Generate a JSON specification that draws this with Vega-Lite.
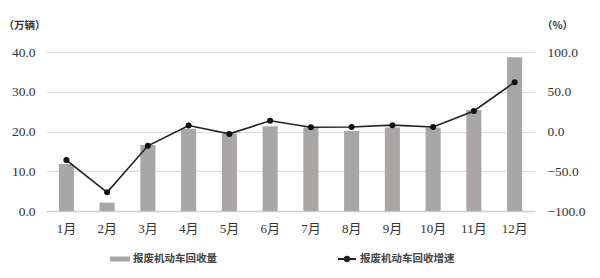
{
  "$schema": "https://vega.github.io/schema/vega-lite/v6.json",
  "width": 489,
  "height": 159,
  "autosize": {"type": "none"},
  "padding": {"left": 46, "top": 52, "right": 65, "bottom": 67},
  "background": "white",
  "config": {
    "font": "Liberation Serif, Noto Sans CJK SC",
    "view": {"stroke": null},
    "axis": {"labelFont": "Liberation Serif, Noto Sans CJK SC", "labelColor": "#333", "labelFontSize": 13.5, "ticks": false, "domain": false, "titleFont": "Noto Sans CJK SC", "titleFontWeight": "bold", "titleColor": "#333", "titleFontSize": 10.5},
    "legend": {"labelFont": "Noto Sans CJK SC", "labelFontSize": 10.5, "labelFontWeight": "bold", "labelColor": "#444", "padding": 0, "labelOffset": 3}
  },
  "data": {
    "values": [
      {"month": "1月", "volume": 11.8, "growth": -36},
      {"month": "2月", "volume": 2.1, "growth": -76.5},
      {"month": "3月", "volume": 16.6, "growth": -18},
      {"month": "4月", "volume": 20.7, "growth": 7.5},
      {"month": "5月", "volume": 19.5, "growth": -3},
      {"month": "6月", "volume": 21.3, "growth": 13.5},
      {"month": "7月", "volume": 21.0, "growth": 5.3},
      {"month": "8月", "volume": 20.1, "growth": 5.7},
      {"month": "9月", "volume": 21.0, "growth": 8.0},
      {"month": "10月", "volume": 21.0, "growth": 5.7},
      {"month": "11月", "volume": 25.4, "growth": 25.8},
      {"month": "12月", "volume": 38.7, "growth": 62}
    ]
  },
  "encoding": {
    "x": {
      "field": "month", "type": "nominal", "sort": null,
      "scale": {"paddingInner": 0.63, "paddingOuter": 0.315},
      "axis": {"title": null, "labelAngle": 0, "labelPadding": 11, "labelFontSize": 13, "domain": true, "domainColor": "#cfcfcf", "domainWidth": 1.5, "grid": false}
    }
  },
  "layer": [
    {
      "mark": {"type": "bar", "color": "#a9a6a6"},
      "encoding": {
        "y": {
          "field": "volume", "type": "quantitative",
          "scale": {"domain": [0, 40]},
          "axis": {"title": "（万辆）", "titleAngle": 0, "titleX": -22, "titleY": -22, "titleAlign": "center", "values": [0, 10, 20, 30, 40], "format": ".1f", "labelPadding": 11, "grid": true, "gridColor": "#dcdcdc", "gridWidth": 1}
        },
        "fill": {
          "datum": "报废机动车回收量",
          "scale": {"range": ["#a9a6a6"]},
          "legend": {"title": null, "orient": "none", "legendX": 64, "legendY": 197, "symbolType": "M-1,-0.25H1V0.25H-1Z", "symbolSize": 400, "symbolStrokeWidth": 0}
        }
      }
    },
    {
      "mark": {"type": "line", "color": "#222", "strokeWidth": 1.6},
      "encoding": {
        "y": {
          "field": "growth", "type": "quantitative",
          "scale": {"domain": [-100, 100]},
          "axis": {"orient": "right", "title": "（%）", "titleAngle": 0, "titleX": 22, "titleY": -22, "titleAlign": "center", "values": [-100, -50, 0, 50, 100], "format": ".1f", "labelPadding": 12, "grid": false}
        },
        "stroke": {
          "datum": "报废机动车回收增速",
          "scale": {"range": ["#222"]},
          "legend": {"title": null, "orient": "none", "legendX": 291, "legendY": 197, "symbolType": "M-1,0H1M-0.25,0A0.25,0.25 0 1,0 0.25,0A0.25,0.25 0 1,0 -0.25,0Z", "symbolSize": 324, "symbolStrokeWidth": 1.8, "symbolFillColor": "#111"}
        }
      }
    },
    {
      "mark": {"type": "point", "filled": true, "color": "#111", "size": 36, "opacity": 1},
      "encoding": {
        "y": {"field": "growth", "type": "quantitative", "scale": {"domain": [-100, 100]}, "axis": null}
      }
    }
  ],
  "resolve": {"scale": {"y": "independent", "fill": "independent", "stroke": "independent"}}
}
